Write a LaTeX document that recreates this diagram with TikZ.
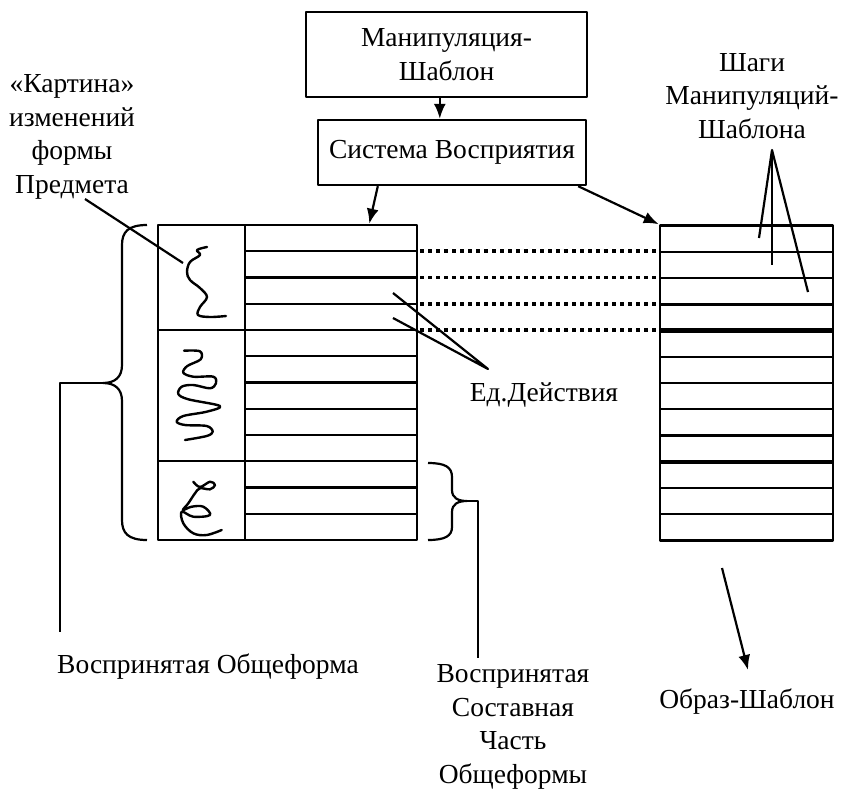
\documentclass[tikz,border=0pt]{standalone}
\usepackage{fontspec}
\setmainfont{Liberation Serif}
\usetikzlibrary{arrows.meta,calc}
\begin{document}
\begin{tikzpicture}[x=1pt,y=-1pt,line width=2.2pt,line join=round,
  lbl/.style={font=\fontsize{27.5}{33.5}\selectfont,align=center,inner sep=0pt},
  box/.style={draw,line width=2.4pt,inner sep=0pt,font=\fontsize{27.5}{33.5}\selectfont,align=center},
  tbl/.style={draw,line width=2.6pt,inner sep=0pt},
  arr/.style={-{Latex[length=15pt,width=12pt]},line width=2.2pt},
  rowline/.style={line width=2.2pt},
  thickrow/.style={line width=4.5pt},
  dots/.style={line width=3.6pt,dash pattern=on 3.6pt off 4.4pt},
  squig/.style={line width=2.4pt,line cap=round}]
\useasboundingbox (0,0) rectangle (843,790);

% boxes
\node[box,minimum width=281pt,minimum height=85pt] (mt) at (446.5,54.5) {Манипуляция-\\Шаблон};
\node[box,minimum width=268pt,minimum height=65pt] (ss) at (452,152.5) {Система Восприятия};

% tables
\node[tbl,minimum width=259pt,minimum height=315pt] (lt) at (287.5,382.5) {};
\node[tbl,minimum width=173pt,minimum height=315pt] (rt) at (746.5,383) {};

% left table internals
\draw[rowline] (245,225) -- (245,540);
\foreach \k in {1,...,11}{\draw[rowline] (245,225+\k*26.25) -- (417,225+\k*26.25);}
\foreach \k in {4,9}{\draw[rowline] (158,225+\k*26.25) -- (245,225+\k*26.25);}

% right table internals
\foreach \k in {1,2,5,6,7,8,10,11}{\draw[rowline] (660,225.5+\k*26.25) -- (833,225.5+\k*26.25);}
\draw[line width=3pt] (660,225.5+3*26.25) -- (833,225.5+3*26.25);
\foreach \k in {4,9}{\draw[thickrow] (660,225.5+\k*26.25) -- (833,225.5+\k*26.25);}

% dotted links
\foreach \k in {1,...,4}{\draw[dots] (420,225+\k*26.25) -- (660,225+\k*26.25);}

% arrows
\draw[arr] ($(mt.south west)+(135,0)$) -- ($(ss.north west)+(123,0)$);
\draw[arr] ($(ss.south west)+(61,0)$) -- ($(lt.north east)+(-49,0)$);
\draw[arr] ($(ss.south east)+(-9,0)$) -- (rt.north west);

% squiggles
\draw[squig] plot[smooth,tension=0.6] coordinates {(207,247) (197,250) (200,255) (190,262) (187,272) (190,280) (200,288) (207,297) (200,307) (198,315) (210,317) (226,316)};
\draw[squig] plot[smooth,tension=0.55] coordinates {(184,350.7) (200,351.3) (200.7,359.3) (187.3,366) (183.3,372.7) (193.3,376.7) (213.3,376.7) (216,383.3) (210,388.3) (193.3,385) (181.7,386.7) (178.3,394) (188.3,399.3) (220,406) (206.7,411.7) (183.3,416) (176.7,421.7) (185,425) (206.7,426) (212.7,431.7) (206.7,436) (185,440)};
\draw[squig] plot[smooth,tension=0.6] coordinates {(193.3,481.7) (200,487) (210,481.7) (215,485) (210,489.3) (200,488.3) (195,493.3) (188.3,503.3) (183,510) (191.7,506.7) (203.3,506.7) (210,515) (193.3,516.7) (181.7,511.7) (183.3,523.3) (193.3,533.3) (206.7,535) (221.7,530)};

% left brace
\draw (147,225) .. controls (128,225) and (122,232) .. (122,245) -- (122,365)
  .. controls (122,377) and (115,383) .. (103,383)
  .. controls (115,383) and (122,389) .. (122,401) -- (122,520)
  .. controls (122,533) and (128,540) .. (147,540);
\coordinate (lbt) at (103,383);
\coordinate (lbc) at (60,383);

% right brace
\draw (428,463) .. controls (445,463) and (452,467) .. (452,477) -- (452,490)
  .. controls (452,498) and (458,501) .. (467,501)
  .. controls (458,501) and (452,504) .. (452,512) -- (452,527)
  .. controls (452,536) and (445,540) .. (428,540);
\coordinate (rbt) at (467,501);
\coordinate (rbc) at (478,501);

% labels
\node[lbl] (kart) at (72,137) {«Картина»\\изменений\\формы\\Предмета};
\node[lbl] (shagi) at (752,96) {Шаги\\Манипуляций-\\Шаблона};
\node[lbl] (ed) at (544,395) {Ед.Действия};
\node[lbl] (vo) at (208,667) {Воспринятая Общеформа};
\node[lbl] (vs) at (513,727) {Воспринятая\\Составная\\Часть\\Общеформы};
\node[lbl] (obr) at (747,702) {Образ-Шаблон};

% leaders
\coordinate (k1) at (85,199);
\coordinate (k2) at (183,263);
\draw (k1) -- (k2);

\coordinate (sa) at (772,150);
\coordinate (s1) at (759,238);
\coordinate (s2) at (772,265);
\coordinate (s3) at (808,292);
\draw (s1) -- (sa) -- (s3);
\draw (sa) -- (s2);

\coordinate (ea) at (488,369);
\coordinate (e1) at (393,293);
\coordinate (e2) at (393,318);
\draw (e1) -- (ea) -- (e2);

\coordinate (vob) at (60,632);
\draw (lbt) -- (lbc) -- (vob);
\coordinate (vsb) at (478,658);
\draw (rbt) -- (rbc) -- (vsb);

\coordinate (oa) at (722,568);
\coordinate (ob) at (748,670);
\draw[arr] (oa) -- (ob);
\end{tikzpicture}
\end{document}
